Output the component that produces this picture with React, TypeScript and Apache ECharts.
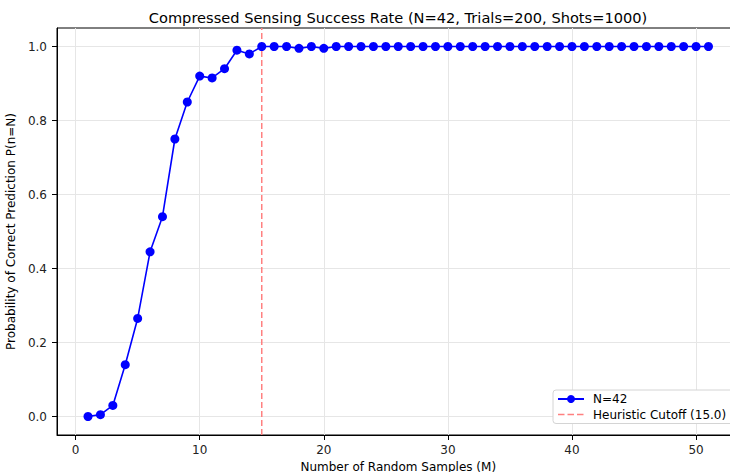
import React, { useEffect, useRef } from "react";
import * as echarts from "echarts";

const samplesM = [1, 2, 3, 4, 5, 6, 7, 8, 9, 10, 11, 12, 13, 14, 15, 16, 17, 18, 19, 20, 21, 22, 23, 24, 25, 26, 27, 28, 29, 30, 31, 32, 33, 34, 35, 36, 37, 38, 39, 40, 41, 42, 43, 44, 45, 46, 47, 48, 49, 50, 51];
const successRate = [0.0, 0.005, 0.03, 0.14, 0.265, 0.445, 0.54, 0.75, 0.85, 0.92, 0.915, 0.94, 0.99, 0.98, 1.0, 1.0, 1.0, 0.995, 1.0, 0.995, 1.0, 1.0, 1.0, 1.0, 1.0, 1.0, 1.0, 1.0, 1.0, 1.0, 1.0, 1.0, 1.0, 1.0, 1.0, 1.0, 1.0, 1.0, 1.0, 1.0, 1.0, 1.0, 1.0, 1.0, 1.0, 1.0, 1.0, 1.0, 1.0, 1.0, 1.0];
const cutoffM = 15.0;
const xTicks = [0, 10, 20, 30, 40, 50];
const yTicks = [0.0, 0.2, 0.4, 0.6, 0.8, 1.0];
const titleText = "Compressed Sensing Success Rate (N=42, Trials=200, Shots=1000)";
const seriesName = "N=42";
const cutoffName = `Heuristic Cutoff (${cutoffM.toFixed(1)})`;

const FONT = "DejaVu Sans";
const DASH_ICON =
  "path://M0,0L0,0ZM0,4.2h6.5v1.6h-6.5zM9.5,4.2h6.5v1.6h-6.5zM19,4.2h6.5v1.6h-6.5zM26,10L26,10Z";

export default function App() {
  const ref = useRef<HTMLDivElement>(null);
  useEffect(() => {
    if (!ref.current) return;
    const chart = echarts.init(ref.current, undefined, { renderer: "svg" });
    const yMin = -0.05, yMax = 1.05;
    chart.setOption({
      animation: false,
      backgroundColor: "#ffffff",
      title: {
        text: titleText,
        left: 393,
        top: 5,
        textAlign: "center",
        textStyle: { fontFamily: FONT, fontSize: 14.6, fontWeight: "normal", color: "#000" },
      },
      grid: {
        left: 57,
        top: 28,
        width: 682.5,
        height: 407,
        show: true,
        borderColor: "#000",
        borderWidth: 1,
        backgroundColor: "transparent",
        outerBoundsMode: "none",
        containLabel: false,
      },
      legend: {
        data: [
          { name: seriesName },
          { name: cutoffName, icon: DASH_ICON, itemStyle: { color: "#ff8080" } },
        ],
        orient: "vertical",
        left: 553,
        top: 390,
        padding: [3, 14, 3, 4],
        itemGap: 3.5,
        itemWidth: 26,
        itemHeight: 10,
        backgroundColor: "#fff",
        borderColor: "#d4d4d4",
        borderWidth: 1,
        borderRadius: 3,
        textStyle: { fontFamily: FONT, fontSize: 12, color: "#000", padding: [0, 0, 0, 4] },
      },
      xAxis: {
        type: "value",
        min: -1.5,
        max: 53.5,
        name: "Number of Random Samples (M)",
        nameLocation: "middle",
        nameGap: 23,
        nameTextStyle: { fontFamily: FONT, fontSize: 12, color: "#000" },
        axisLine: { show: true, onZero: false, lineStyle: { color: "#000", width: 1 } },
        axisTick: { show: true, length: 5, lineStyle: { color: "#000" }, customValues: xTicks },
        axisLabel: { customValues: xTicks, fontFamily: FONT, fontSize: 12, color: "#222", margin: 9 },
        splitLine: { show: true, lineStyle: { color: "#e6e6e6", width: 1 } },
      },
      yAxis: {
        type: "value",
        min: yMin,
        max: yMax,
        name: "Probability of Correct Prediction P(n=N)",
        nameLocation: "middle",
        nameGap: 31,
        nameTextStyle: { fontFamily: FONT, fontSize: 12, color: "#000" },
        axisLine: { show: true, onZero: false, lineStyle: { color: "#000", width: 1 } },
        axisTick: { show: true, length: 5, lineStyle: { color: "#000" }, customValues: yTicks },
        axisLabel: {
          customValues: yTicks,
          fontFamily: FONT,
          fontSize: 12,
          color: "#222",
          margin: 10,
          formatter: (v: number) => v.toFixed(1),
        },
        splitLine: { show: true, lineStyle: { color: "#e6e6e6", width: 1 } },
      },
      series: [
        {
          name: seriesName,
          type: "line",
          z: 3,
          data: samplesM.map((m, i) => [m, successRate[i]]),
          symbol: "circle",
          symbolSize: 9,
          itemStyle: { color: "#0000ff" },
          lineStyle: { color: "#0000ff", width: 1.6 },
          clip: true,
        },
        {
          name: cutoffName,
          type: "line",
          z: 2,
          data: [[cutoffM, yMin], [cutoffM, yMax]],
          symbol: "none",
          itemStyle: { color: "#ff8080" },
          lineStyle: { color: "#ff8080", width: 1.5, type: [6, 3] },
          clip: true,
        },
      ],
    });
    return () => chart.dispose();
  }, []);
  return (
    <div style={{ position: "fixed", left: 0, top: 0, width: 730, height: 472, overflow: "hidden", background: "#fff" }}>
      <div ref={ref} style={{ width: 745, height: 472 }} />
    </div>
  );
}
